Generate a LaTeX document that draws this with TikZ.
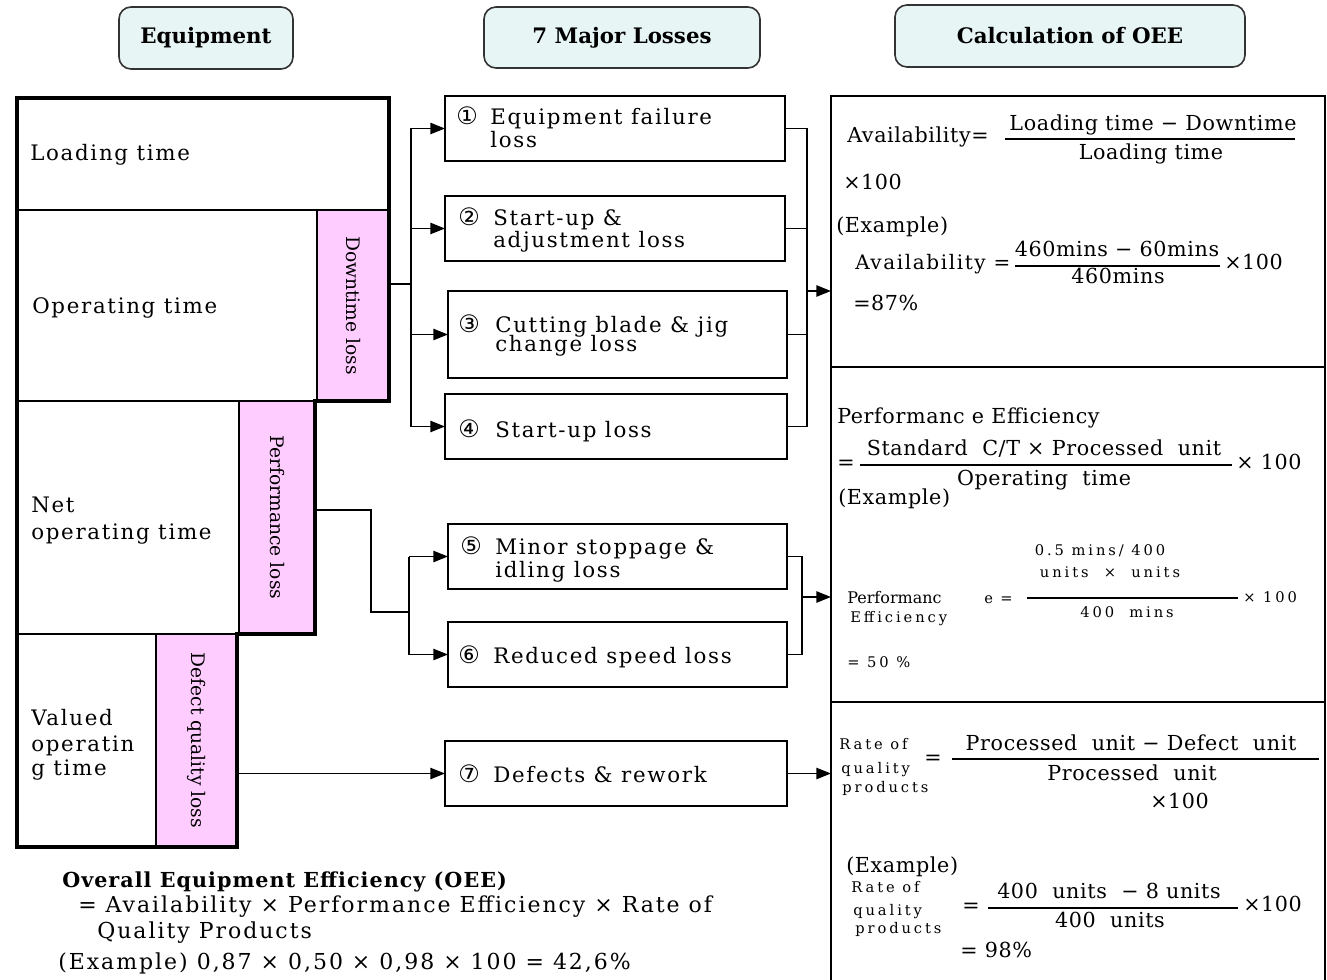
\documentclass[tikz,border=0pt]{standalone}
\usepackage{fontspec}
\setmainfont{DejaVu Serif}
\newfontfamily\bodyf[LetterSpace=8]{DejaVu Serif}
\newfontfamily\fmlf[LetterSpace=3]{DejaVu Serif}
\newfontfamily\widef[LetterSpace=20]{DejaVu Serif}
\newfontfamily\notef[LetterSpace=9]{DejaVu Serif}
\newfontfamily\noteb[LetterSpace=5]{DejaVu Serif Bold}
\newfontfamily\circf{DejaVu Sans}
\usetikzlibrary{arrows.meta}
\definecolor{losspink}{RGB}{255,204,255}
\definecolor{headfill}{RGB}{232,245,245}
\begin{document}
\begin{tikzpicture}[x=0.75pt,y=-0.75pt,
  hdrbox/.style={draw=black!80,fill=headfill,rounded corners=9pt,line width=1.2pt,
    inner sep=0,outer sep=0,font=\bfseries\fontsize{16}{18}\selectfont},
  tcell/.style={draw,line width=1pt,inner sep=0,outer sep=0},
  pinkcell/.style={tcell,fill=losspink},
  vlab/.style={rotate=-90,inner sep=0,font=\fontsize{14}{16}\selectfont},
  lossbox/.style={draw,line width=1.5pt,inner sep=0,outer sep=0},
  panel/.style={draw,line width=1.4pt,inner sep=0,outer sep=0},
  lbl/.style={anchor=base west,inner sep=0,font=\bodyf\fontsize{16}{18}\selectfont},
  circ/.style={anchor=base west,inner sep=0,font=\circf\fontsize{18}{20}\selectfont},
  fml/.style={anchor=base west,inner sep=0,font=\fmlf\fontsize{15.5}{18}\selectfont},
  fmlc/.style={fml,anchor=base},
  sml/.style={anchor=base west,inner sep=0,font=\widef\fontsize{11}{13}\selectfont},
  smlc/.style={sml,anchor=base},
  note/.style={anchor=base west,inner sep=0,font=\notef\fontsize{16.5}{19}\selectfont},
  fracrule/.style={line width=1pt},
  conn/.style={line width=1.1pt},
  arr/.style={conn,-{Triangle[length=11pt,width=8.5pt]}}]
\useasboundingbox (0,0) rectangle (1327,980);

% column headers
\node[hdrbox,minimum width=130.5pt,minimum height=46.5pt] (hEq) at (206,38) {Equipment};
\node[hdrbox,minimum width=207pt,minimum height=45.75pt] (hLoss) at (622,37.5) {7 Major Losses};
\node[hdrbox,minimum width=262.5pt,minimum height=46.5pt] (hCalc) at (1070,36) {Calculation of OEE};

% equipment time breakdown
\node[tcell,minimum width=279pt,minimum height=84pt] (loadc) at (203,154) {};
\node[tcell,minimum width=225pt,minimum height=143.25pt] (oper) at (167,305.5) {};
\node[pinkcell,minimum width=54pt,minimum height=143.25pt] (down) at (353,305.5) {};
\node[tcell,minimum width=166.5pt,minimum height=174.75pt] (net) at (128,517.5) {};
\node[pinkcell,minimum width=57pt,minimum height=174.75pt] (perf) at (277,517.5) {};
\node[tcell,minimum width=104.25pt,minimum height=159.75pt] (val) at (86.5,740.5) {};
\node[pinkcell,minimum width=60.75pt,minimum height=159.75pt] (defq) at (196.5,740.5) {};
\draw[line width=3pt,line join=miter]
  (loadc.north west) -- (loadc.north east) -- (down.south east) -- (perf.north east)
  -- (perf.south east) -- (defq.north east) -- (defq.south east) -- (val.south west) -- cycle;

\node[lbl] (tLoad) at (30,161) {Loading time};
\node[lbl] (tOper) at (32,314) {Operating time};
\node[lbl] (tNet1) at (31,512) {Net};
\node[lbl] (tNet2) at (31,539) {operating time};
\node[lbl] (tVal1) at (31,725) {Valued};
\node[lbl] (tVal2) at (31,751) {operatin};
\node[lbl] (tVal3) at (31,775) {g time};
\node[vlab] (tDown) at (down.center) {Downtime loss};
\node[vlab] (tPerf) at (perf.center) {Performance loss};
\node[vlab] (tDefq) at (defq.center) {Defect quality loss};

% the seven losses
\node[lossbox,minimum width=255pt,minimum height=48.75pt] (b1) at (615,128.5) {};
\node[lossbox,minimum width=255pt,minimum height=48.75pt] (b2) at (615,228.5) {};
\node[lossbox,minimum width=254.25pt,minimum height=65.25pt] (b3) at (617.5,334.5) {};
\node[lossbox,minimum width=256.5pt,minimum height=48.75pt] (b4) at (616,426.5) {};
\node[lossbox,minimum width=254.25pt,minimum height=48.75pt] (b5) at (617.5,556.5) {};
\node[lossbox,minimum width=254.25pt,minimum height=48.75pt] (b6) at (617.5,654.5) {};
\node[lossbox,minimum width=256.5pt,minimum height=48.75pt] (b7) at (616,773.5) {};

\node[circ] (n1) at (456,125) {①};
\node[lbl] (t1a) at (490,125) {Equipment failure};
\node[lbl] (t1b) at (490,148) {loss};
\node[circ] (n2) at (458,226) {②};
\node[lbl] (t2a) at (493,226) {Start-up \&};
\node[lbl] (t2b) at (493,248) {adjustment loss};
\node[circ] (n3) at (458,333) {③};
\node[lbl] (t3a) at (495,333) {Cutting blade \& jig};
\node[lbl] (t3b) at (495,352) {change loss};
\node[circ] (n4) at (458,437) {④};
\node[lbl] (t4a) at (495,437) {Start-up loss};
\node[circ] (n5) at (460,554) {⑤};
\node[lbl] (t5a) at (495,554) {Minor stoppage \&};
\node[lbl] (t5b) at (495,577) {idling loss};
\node[circ] (n6) at (458,663) {⑥};
\node[lbl] (t6a) at (493,663) {Reduced speed loss};
\node[circ] (n7) at (458,782) {⑦};
\node[lbl] (t7a) at (493,782) {Defects \& rework};

% calculation panels
\node[panel,minimum width=370.5pt,minimum height=203.25pt] (pan1) at (1078,231.5) {};
\node[panel,minimum width=370.5pt,minimum height=251.25pt] (pan2) at (1078,534.5) {};
\node[panel,minimum width=370.5pt,minimum height=212.25pt] (pan3) at (1078,843.5) {};

% downtime -> losses 1..4 -> availability
\coordinate (jA) at (411,284);
\draw[conn] (down.east |- jA) -- (jA);
\draw[conn] (b1.west -| jA) -- (b4.west -| jA);
\draw[arr] (b1.west -| jA) -- (b1.west);
\draw[arr] (b2.west -| jA) -- (b2.west);
\draw[arr] (b3.west -| jA) -- (b3.west);
\draw[arr] (b4.west -| jA) -- (b4.west);
\coordinate (kA) at (807,291);
\draw[conn] (b1.east) -- (b1.east -| kA);
\draw[conn] (b2.east) -- (b2.east -| kA);
\draw[conn] (b3.east) -- (b3.east -| kA);
\draw[conn] (b4.east) -- (b4.east -| kA);
\draw[conn] (b1.east -| kA) -- (b4.east -| kA);
\draw[arr] (kA) -- (kA -| pan1.west);

% performance loss -> losses 5,6 -> performance efficiency
\coordinate (pA) at (371,510);
\coordinate (pB) at (371,612);
\coordinate (jB) at (409,612);
\draw[conn] (perf.east |- pA) -- (pA) -- (pB) -- (jB);
\draw[conn] (b5.west -| jB) -- (b6.west -| jB);
\draw[arr] (b5.west -| jB) -- (b5.west);
\draw[arr] (b6.west -| jB) -- (b6.west);
\coordinate (kB) at (802,597);
\draw[conn] (b5.east) -- (b5.east -| kB) -- (b6.east -| kB) -- (b6.east);
\draw[arr] (kB) -- (kB -| pan2.west);

% defect quality loss -> loss 7 -> rate of quality products
\draw[arr] (defq.east |- b7.west) -- (b7.west);
\draw[arr] (b7.east) -- (b7.east -| pan3.west);

% availability
\node[fml] (avL) at (847,143) {Availability=};
\draw[fracrule] (1005,139) -- (1295,139);
\node[fmlc] (avN) at (1153,131) {Loading time − Downtime};
\node[fmlc] (avD) at (1151,160) {Loading time};
\node[fml] (avX) at (843,190) {×100};
\node[fml] (ex1) at (836,233) {(Example)};
\node[lbl,font=\bodyf\fontsize{15}{18}\selectfont] (avE) at (855,270) {Availability =};
\draw[fracrule] (1015,266) -- (1220,266);
\node[fmlc] (avEN) at (1117,257) {460mins − 60mins};
\node[fmlc] (avED) at (1118,284) {460mins};
\node[fml] (avEX) at (1224,270) {×100};
\node[fml] (avR) at (853,311) {=87\%};

% performance efficiency
\node[fml] (peL) at (837,423) {Performanc e Efficiency};
\node[fml] (peEq) at (837,469) {=};
\draw[fracrule] (860,465) -- (1232,465);
\node[fmlc] (peN) at (1044,455) {Standard~~C/T × Processed~~unit};
\node[fmlc] (peD) at (1044,485) {Operating~~time};
\node[fml] (peX) at (1236,469) {× 100};
\node[fml] (ex2) at (838,504) {(Example)};
\node[anchor=base west,inner sep=0,font=\fontsize{12}{14}\selectfont] (peE1) at (847,603) {Performanc};
\node[sml] (peE2) at (850,622) {Efficiency};
\node[sml] (peE3) at (984,603) {e};
\node[sml] (peEq2) at (1000,603) {=};
\node[smlc] (peEN1) at (1100,555) {0.5 mins/ 400};
\node[smlc] (peEN2) at (1110,577) {units~~×~~units};
\draw[fracrule] (1027,598) -- (1238,598);
\node[smlc] (peED) at (1127,617) {400~~mins};
\node[sml] (peEX) at (1243,602) {× 100};
\node[sml] (peR) at (847,667) {= 50 \%};

% rate of quality products
\node[sml] (rq1) at (839,749) {Rate of};
\node[sml] (rq2) at (841,773) {quality};
\node[sml] (rq3) at (842,792) {products};
\node[fml] (rqEq) at (924,764) {=};
\draw[fracrule] (952,759) -- (1319,759);
\node[fmlc] (rqN) at (1131,750) {Processed~~unit − Defect~~unit};
\node[fmlc] (rqD) at (1132,780) {Processed~~unit};
\node[fml] (rqX) at (1150,808) {×100};
\node[fml] (ex3) at (846,872) {(Example)};
\node[sml] (rqE1) at (851,892) {Rate of};
\node[sml] (rqE2) at (853,915) {quality};
\node[sml] (rqE3) at (855,933) {products};
\node[fml] (rqEEq) at (962,912) {=};
\draw[fracrule] (988,908) -- (1238,908);
\node[fmlc] (rqEN) at (1109,898) {400~~units~~− 8 units};
\node[fmlc] (rqED) at (1110,927) {400~~units};
\node[fml] (rqEX) at (1243,911) {×100};
\node[fml] (rqR) at (960,957) {= 98\%};

% overall equipment efficiency
\node[note,font=\noteb\fontsize{15.5}{18}\selectfont] (oee1) at (62,887) {Overall Equipment Efficiency (OEE)};
\node[note] (oee2) at (78,912) {= Availability × Performance Efficiency × Rate of};
\node[note] (oee3) at (97,938) {Quality Products};
\node[note] (oee4) at (58,969) {(Example) 0,87 × 0,50 × 0,98 × 100 = 42,6\%};
\end{tikzpicture}
\end{document}
